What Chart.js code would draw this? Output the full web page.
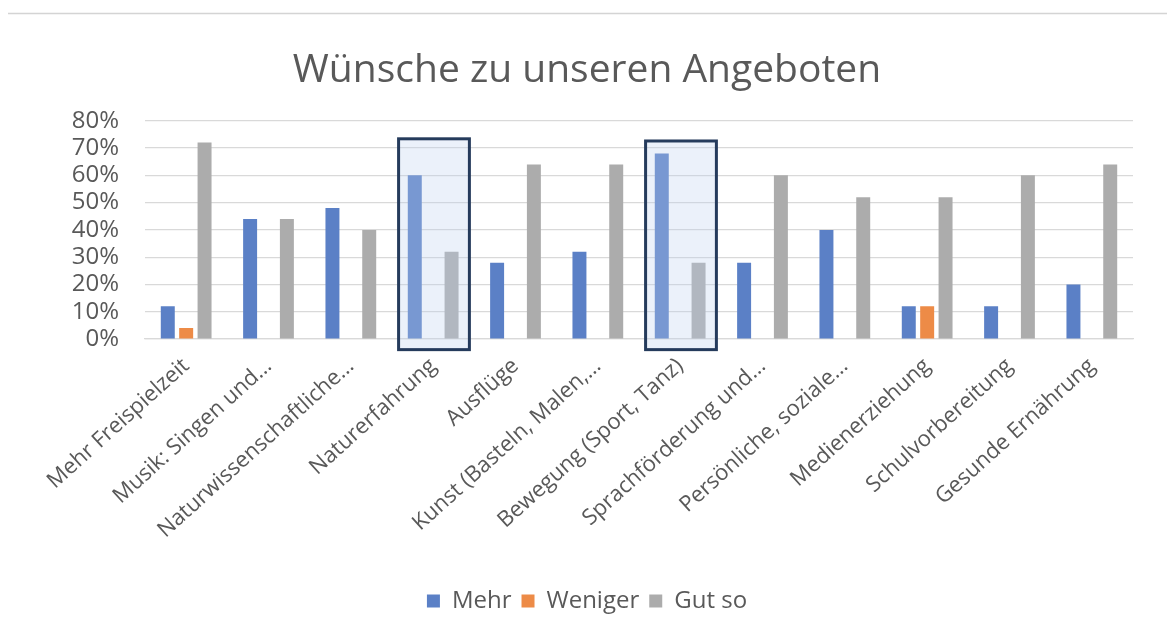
<!DOCTYPE html>
<html>
<head>
<meta charset="utf-8">
<script src="https://cdn.jsdelivr.net/npm/chart.js@4.4.1/dist/chart.umd.min.js"></script>
<style>
html,body{margin:0;padding:0;background:#fff;}
#wrap{width:1167px;height:623px;position:relative;}
</style>
</head>
<body>
<div id="wrap"><canvas id="c" width="1167" height="623"></canvas></div>
<script>
const categories = [
  "Mehr Freispielzeit",
  "Musik: Singen und…",
  "Naturwissenschaftliche…",
  "Naturerfahrung",
  "Ausflüge",
  "Kunst (Basteln, Malen,…",
  "Bewegung (Sport, Tanz)",
  "Sprachförderung und…",
  "Persönliche, soziale…",
  "Medienerziehung",
  "Schulvorbereitung",
  "Gesunde Ernährung"
];
const seriesNames = ["Mehr", "Weniger", "Gut so"];
const mehr    = [12, 44, 48, 60, 28, 32, 68, 28, 40, 12, 12, 20];
const weniger = [4, 0, 0, 0, 0, 0, 0, 0, 0, 12, 0, 0];
const gutSo   = [72, 44, 40, 32, 64, 64, 28, 60, 52, 52, 60, 64];
const yTicks  = [0, 10, 20, 30, 40, 50, 60, 70, 80];
const highlighted = [3, 6];

const FONT = "'Open Sans', sans-serif";
const TEXT = "#595959";

const highlightPlugin = {
  id: 'highlight',
  afterDatasetsDraw(chart) {
    const ctx = chart.ctx, x = chart.scales.x, y = chart.scales.y;
    const half = x.getPixelForValue(1) - x.getPixelForValue(0);
    highlighted.forEach(i => {
      const cx = x.getPixelForValue(i);
      const l = cx - half * 0.42, r = cx + half * 0.44;
      const t = y.getPixelForValue(i === 3 ? 73.4 : 72.6);
      const b = y.getPixelForValue(-3.9);
      ctx.save();
      ctx.fillStyle = 'rgba(190,208,240,0.30)';
      ctx.fillRect(l, t, r - l, b - t);
      ctx.strokeStyle = '#253b5c';
      ctx.lineWidth = 3;
      ctx.strokeRect(l, t, r - l, b - t);
      ctx.restore();
    });
  }
};

const topLinePlugin = {
  id: 'topline',
  beforeDraw(chart) {
    const ctx = chart.ctx;
    ctx.save();
    ctx.fillStyle = '#fff';
    ctx.fillRect(0, 0, chart.width, chart.height);
    ctx.strokeStyle = '#d4d4d4';
    ctx.lineWidth = 1.5;
    ctx.beginPath();
    ctx.moveTo(8, 13.5);
    ctx.lineTo(chart.width, 13.5);
    ctx.stroke();
    ctx.restore();
  }
};

new Chart(document.getElementById('c'), {
  type: 'bar',
  data: {
    labels: categories,
    datasets: [
      { label: seriesNames[0], data: mehr, backgroundColor: '#5b80c6' },
      { label: seriesNames[1], data: weniger, backgroundColor: '#ed8b47' },
      { label: seriesNames[2], data: gutSo, backgroundColor: '#acacac' }
    ]
  },
  options: {
    responsive: false,
    animation: false,
    devicePixelRatio: 1,
    layout: { padding: { left: 41, right: 34, top: 0, bottom: 0 } },
    datasets: { bar: { categoryPercentage: 0.67, barPercentage: 0.76, borderWidth: 0 } },
    plugins: {
      title: {
        display: true,
        text: 'Wünsche zu unseren Angeboten',
        color: TEXT,
        font: { family: FONT, size: 39, weight: 'normal', lineHeight: 1.2 },
        padding: { top: 47, bottom: 27 }
      },
      legend: {
        position: 'bottom',
        labels: {
          color: TEXT,
          font: { family: FONT, size: 24 },
          boxWidth: 13, boxHeight: 13,
          padding: 10
        }
      },
      tooltip: { enabled: false }
    },
    scales: {
      y: {
        min: 0, max: 80,
        afterBuildTicks(s) { s.ticks = yTicks.map(v => ({ value: v })); },
        afterFit(s) { s.width = 104; },
        ticks: {
          color: TEXT,
          font: { family: FONT, size: 24 },
          padding: 26,
          autoSkip: false,
          callback: v => v + '%'
        },
        grid: { color: '#d9d9d9', lineWidth: 1.2, drawTicks: false },
        border: { display: false }
      },
      x: {
        afterFit(s) { s.height = 240; },
        ticks: {
          color: TEXT,
          font: { family: FONT, size: 22 },
          maxRotation: 42, minRotation: 42,
          autoSkip: false,
          padding: 14
        },
        grid: { display: false, drawTicks: false },
        border: { display: true, color: '#d9d9d9', width: 1.2 }
      }
    }
  },
  plugins: [topLinePlugin, highlightPlugin]
});
</script>
</body>
</html>
